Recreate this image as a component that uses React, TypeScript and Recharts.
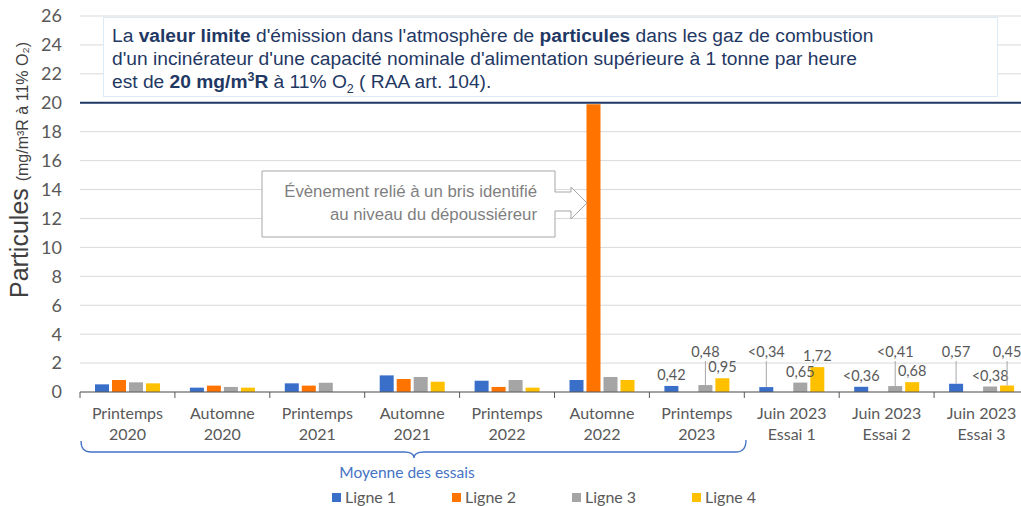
import React from "react";
import {
  BarChart,
  Bar,
  XAxis,
  YAxis,
  CartesianGrid,
  ReferenceLine,
  Legend,
  LabelList,
} from "recharts";

// Categories (two-line tick labels)
const CATEGORY_TOP = [
  "Printemps",
  "Automne",
  "Printemps",
  "Automne",
  "Printemps",
  "Automne",
  "Printemps",
  "Juin 2023",
  "Juin 2023",
  "Juin 2023",
];
const CATEGORY_BOTTOM = [
  "2020",
  "2020",
  "2021",
  "2021",
  "2022",
  "2022",
  "2023",
  "Essai 1",
  "Essai 2",
  "Essai 3",
];

// Particules (mg/m³R à 11% O2), one array per line
const LIGNE_1 = [0.53, 0.3, 0.6, 1.15, 0.78, 0.83, 0.42, 0.34, 0.36, 0.57];
const LIGNE_2 = [0.83, 0.44, 0.44, 0.9, 0.35, 19.9, null, null, null, null];
const LIGNE_3 = [0.67, 0.35, 0.64, 1.04, 0.83, 1.04, 0.48, 0.65, 0.41, 0.38];
const LIGNE_4 = [0.6, 0.3, null, 0.71, 0.3, 0.83, 0.95, 1.72, 0.68, 0.45];

// Data labels shown on the 2023 results
const LABELS_1 = [null, null, null, null, null, null, "0,42", "<0,34", "<0,36", "0,57"];
const LABELS_3 = [null, null, null, null, null, null, "0,48", "0,65", "<0,41", "<0,38"];
const LABELS_4 = [null, null, null, null, null, null, "0,95", "1,72", "0,68", "0,45"];

const Y_TICKS = [0, 2, 4, 6, 8, 10, 12, 14, 16, 18, 20, 22, 24, 26];
const LIMIT = 20;

const SERIES_NAMES = ["Ligne 1", "Ligne 2", "Ligne 3", "Ligne 4"];
const SERIES_COLORS = ["#3A6FC9", "#FF7300", "#A5A5A5", "#FFC000"];

// labels lifted above the bars with a leader line (category indexes)
const RAISED_1 = [7, 9];
const RAISED_3 = [6, 8];
const RAISED_4 = [9];

const CHART_W = 1030;
const CHART_H = 506;
const Y_AXIS_W = 80;
const MARGIN = { top: 16, right: 1, bottom: 0, left: 0 };
const BAND = (CHART_W - Y_AXIS_W - MARGIN.right) / CATEGORY_TOP.length;

const TEXT_GRAY = "#595959";
const CAL = "Lato, 'Open Sans', sans-serif";
const ARIAL = "'Liberation Sans', Arial, sans-serif";

const data = CATEGORY_TOP.map((top, i) => ({
  name: `${top} ${CATEGORY_BOTTOM[i]}`,
  idx: i,
  l1: LIGNE_1[i],
  l2: LIGNE_2[i],
  l3: LIGNE_3[i],
  l4: LIGNE_4[i],
}));

const CategoryTick = (props: any) => {
  const { x, y, index } = props;
  const left = x - BAND / 2;
  return (
    <g>
      <line x1={left} x2={left} y1={y} y2={y + 6} stroke={TEXT_GRAY} />
      <text x={x} y={y + 27} textAnchor="middle" fill={TEXT_GRAY} fontSize={16} fontFamily={CAL}>
        {CATEGORY_TOP[index]}
      </text>
      <text x={x} y={y + 48} textAnchor="middle" fill={TEXT_GRAY} fontSize={16} fontFamily={CAL}>
        {CATEGORY_BOTTOM[index]}
      </text>
    </g>
  );
};

const RAISED_BASELINE = 357;

// value passed in is the category index; the text comes from the label array
const makeLabel = (labels: (string | null)[], raised: number[]) => (props: any) => {
  const { x, y, width, value } = props;
  const cat = Number(value);
  const text = labels[cat];
  if (!text) return null;
  const cx = Number(x) + Number(width) / 2;
  if (raised.includes(cat)) {
    return (
      <g>
        <line x1={cx} x2={cx} y1={RAISED_BASELINE + 4} y2={y} stroke="#A6A6A6" />
        <text x={cx} y={RAISED_BASELINE} textAnchor="middle" fill={TEXT_GRAY} fontSize={14.5} fontFamily={CAL}>
          {text}
        </text>
      </g>
    );
  }
  return (
    <text x={cx} y={Number(y) - 6} textAnchor="middle" fill={TEXT_GRAY} fontSize={14.5} fontFamily={CAL}>
      {text}
    </text>
  );
};

const LEGEND_X = [332, 452, 572, 692];

const LegendRow = () => (
  <div style={{ position: "relative", height: 18, width: CHART_W }}>
    {SERIES_NAMES.map((name, i) => (
      <div key={name}>
        <div
          style={{
            position: "absolute",
            left: LEGEND_X[i],
            top: 5,
            width: 9,
            height: 9,
            background: SERIES_COLORS[i],
          }}
        />
        <div
          style={{
            position: "absolute",
            left: LEGEND_X[i] + 13,
            top: 0,
            lineHeight: "18px",
            fontSize: 16,
            fontFamily: CAL,
            color: TEXT_GRAY,
            whiteSpace: "nowrap",
          }}
        >
          {name}
        </div>
      </div>
    ))}
  </div>
);

const App = () => {
  const keys = ["l1", "l2", "l3", "l4"];
  const labelSets: Record<string, [(string | null)[], number[]]> = {
    l1: [LABELS_1, RAISED_1],
    l3: [LABELS_3, RAISED_3],
    l4: [LABELS_4, RAISED_4],
  };

  return (
    <div
      style={{
        position: "fixed",
        left: 0,
        top: 0,
        width: 1021,
        height: 506,
        overflow: "hidden",
        background: "#fff",
      }}
    >
      <BarChart
        width={CHART_W}
        height={CHART_H}
        data={data}
        margin={MARGIN}
        barSize={14}
        barGap={3}
      >
        <CartesianGrid horizontal vertical={false} stroke="#D9D9D9" />
        <XAxis
          dataKey="name"
          interval={0}
          height={96}
          tickSize={0}
          tickMargin={0}
          axisLine={{ stroke: TEXT_GRAY }}
          tickLine={false}
          tick={<CategoryTick />}
        />
        <YAxis
          width={Y_AXIS_W}
          domain={[0, 26]}
          ticks={Y_TICKS}
          interval={0}
          axisLine={false}
          tickLine={false}
          tickSize={0}
          tickMargin={18}
          tick={{ fill: TEXT_GRAY, fontSize: 18, fontFamily: CAL }}
        />
        <ReferenceLine y={LIMIT} stroke="#1F3864" strokeWidth={2} />
        <Legend
          verticalAlign="bottom"
          height={18}
          wrapperStyle={{ left: 0, width: CHART_W }}
          content={() => <LegendRow />}
        />
        {keys.map((k, i) => (
          <Bar
            key={k}
            dataKey={k}
            name={SERIES_NAMES[i]}
            fill={SERIES_COLORS[i]}
            isAnimationActive={false}
          >
            {labelSets[k] && (
              <LabelList dataKey="idx" content={makeLabel(labelSets[k][0], labelSets[k][1])} />
            )}
          </Bar>
        ))}
      </BarChart>

      {/* limit note */}
      <div
        style={{
          position: "absolute",
          left: 103,
          top: 17,
          width: 895,
          height: 80,
          boxSizing: "border-box",
          border: "1px solid #DDEBF7",
          background: "#fff",
          padding: "6px 8px",
          fontFamily: ARIAL,
          fontSize: 19.2,
          lineHeight: "23px",
          color: "#1F3864",
          whiteSpace: "nowrap",
        }}
      >
        La <b>valeur limite</b> d'émission dans l'atmosphère de <b>particules</b> dans les gaz de combustion
        <br />
        d'un incinérateur d'une capacité nominale d'alimentation supérieure à 1 tonne par heure
        <br />
        est de <b>20 mg/m<sup style={{ fontSize: "0.65em", lineHeight: 0 }}>3</sup>R</b> à 11% O
        <sub style={{ fontSize: "0.65em", lineHeight: 0 }}>2</sub> ( RAA art. 104).
      </div>

      <svg
        width={1021}
        height={506}
        style={{ position: "absolute", left: 0, top: 0, pointerEvents: "none" }}
      >
        {/* y axis title */}
        <text
          transform="rotate(-90, 28, 170)"
          x={28}
          y={170}
          textAnchor="middle"
          fill="#404040"
          fontFamily={ARIAL}
        >
          <tspan fontSize={25}>Particules </tspan>
          <tspan fontSize={16}>(mg/m³R à 11% O₂)</tspan>
        </text>

        {/* callout */}
        <path
          d="M262 171 L555 171 L555 192 L571 192 L571 187 L587 203 L571 219 L571 211 L555 211 L555 237 L262 237 Z"
          fill="#fff"
          stroke="#A6A6A6"
          strokeWidth={1}
        />
        <text x={537} y={197} textAnchor="end" fill="#7F7F7F" fontSize={16.8} fontFamily={ARIAL}>
          Évènement relié à un bris identifié
        </text>
        <text x={537} y={220} textAnchor="end" fill="#7F7F7F" fontSize={16.8} fontFamily={ARIAL}>
          au niveau du dépoussiéreur
        </text>

        {/* brace for averaged campaigns */}
        <path
          d="M81 441 Q81 452 91 452 L404 452 Q414 452 414 458 Q414 452 424 452 L736 452 Q746 452 746 440"
          fill="none"
          stroke="#4472C4"
          strokeWidth={1.3}
        />
        <text x={407} y={478} textAnchor="middle" fill="#4472C4" fontSize={15.5} fontFamily={CAL}>
          Moyenne des essais
        </text>
      </svg>
    </div>
  );
};

export default App;
